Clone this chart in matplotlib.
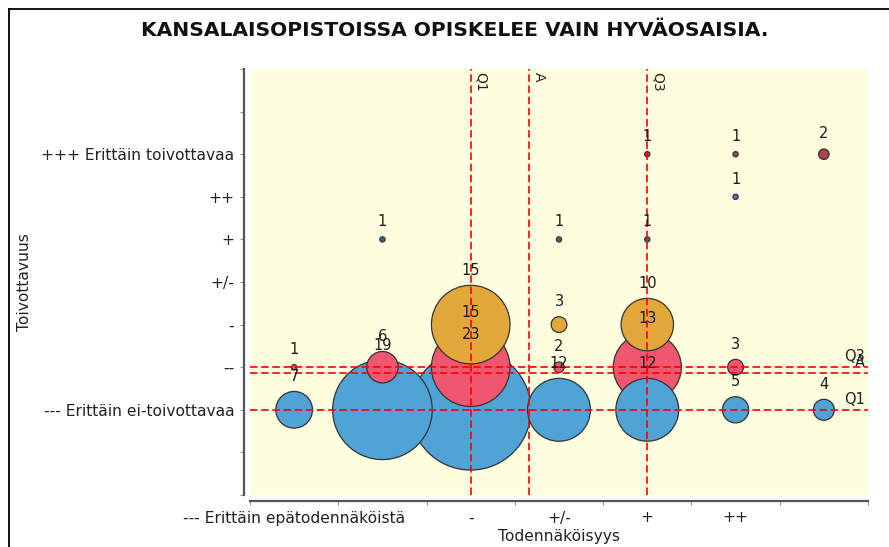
import numpy as np
import matplotlib
matplotlib.use("Agg")
import matplotlib.pyplot as plt
from matplotlib.lines import Line2D

# ---------------- data ----------------
title = "KANSALAISOPISTOISSA OPISKELEE VAIN HYVÄOSAISIA."
x_title = "Todennäköisyys"
y_title = "Toivottavuus"

x_categories = ["--- Erittäin epätodennäköistä", "--", "-", "+/-", "+", "++",
                "+++ Erittäin todennäköistä"]
x_shown = [True, False, True, True, True, True, False]
y_categories = ["--- Erittäin ei-toivottavaa", "--", "-", "+/-", "+", "++",
                "+++ Erittäin toivottavaa"]

# counts per desirability row (index = likelihood category 1..7)
row_very_undesirable = [7, 19, 23, 12, 12, 5, 4]     # ---
row_undesirable      = [1, 6, 15, 2, 13, 3, 0]       # --
row_slightly_undes   = [0, 0, 15, 3, 10, 0, 0]       # -
row_neutral          = [0, 0, 0, 0, 0, 0, 0]         # +/-
row_slightly_des     = [0, 1, 0, 1, 1, 0, 0]         # +
row_desirable        = [0, 0, 0, 0, 0, 1, 0]         # ++
row_very_desirable   = [0, 0, 0, 0, 1, 1, 2]         # +++

rows = [row_very_undesirable, row_undesirable, row_slightly_undes, row_neutral,
        row_slightly_des, row_desirable, row_very_desirable]
row_colors = ["#4FA3D5", "#F0566E", "#E3A83A", "#8BC34A",
              "#2C7182", "#6D6DC2", "#A8454F"]

# ---------------- figure ----------------
W, H, DPI = 889, 547, 100
FS = 11.2
fig = plt.figure(figsize=(W / DPI, H / DPI), dpi=DPI)
fig.patch.set_facecolor("white")

ax = fig.add_axes([250 / W, 52 / H, 618 / W, 426 / H])
ax.set_facecolor("#FFFFE0")
ax.set_xlim(0.5, 7.5)
ax.set_ylim(-1, 9)

for s in ["top", "right"]:
    ax.spines[s].set_visible(False)
for s in ["left", "bottom"]:
    ax.spines[s].set_position(("outward", 4.3))
    ax.spines[s].set_color("#555555")
    ax.spines[s].set_linewidth(1.6)

ax.set_yticks(np.arange(-1, 10))
ax.set_yticklabels(["", ""] + y_categories + ["", ""])
ax.set_xticks(np.arange(0.5, 7.6, 1.0))
ax.set_xticklabels([])
ax.tick_params(axis="both", direction="out", length=3, width=0.8,
               color="#999999", labelsize=FS, labelcolor="#222222")
ax.tick_params(axis="y", pad=4)

# x category labels
for i, (lab, show) in enumerate(zip(x_categories, x_shown)):
    if not show:
        continue
    ax.annotate(lab, xy=(i + 1, 0), xycoords=("data", "axes fraction"),
                xytext=(0, -23), textcoords="offset pixels",
                ha="center", va="center", fontsize=FS, color="#222222",
                annotation_clip=False)

# ---------------- bubbles ----------------
PX_PER_UNIT = 2.62
pts = []
for yi, (row, col) in enumerate(zip(rows, row_colors)):
    for xi, v in enumerate(row):
        if v > 0:
            pts.append((xi + 1, yi + 1, v, col))
pts.sort(key=lambda p: -p[2])

xs = [p[0] for p in pts]
ys = [p[1] for p in pts]
vals = [p[2] for p in pts]
cols = [p[3] for p in pts]
sizes = [(2 * v * PX_PER_UNIT * 72 / DPI) ** 2 for v in vals]
ax.scatter(xs, ys, s=sizes, c=cols, edgecolors="#333333", linewidths=0.9,
           zorder=3)

# ---------------- quartiles / mean lines ----------------
all_x = np.concatenate([np.repeat(np.arange(1, 8), r) for r in rows])
all_y = np.concatenate([np.repeat(np.full(7, yi + 1), r) for yi, r in enumerate(rows)])
qx1, qx3 = np.percentile(all_x, [25, 75])
qy1, qy3 = np.percentile(all_y, [25, 75])
mx, my = all_x.mean(), all_y.mean()

dash = (0, (4.5, 2.2))
for xv, lab in [(qx1, "Q1"), (mx, "A"), (qx3, "Q3")]:
    ax.axvline(xv, color="#FF0000", ls=dash, lw=1.2, zorder=4)
    ax.annotate(lab, xy=(xv, 1), xycoords=("data", "axes fraction"),
                xytext=(3, -3), textcoords="offset pixels", rotation=-90,
                ha="left", va="top", fontsize=10, color="#222222")
for yv, lab in [(qy1, "Q1"), (my, "A"), (qy3, "Q3")]:
    ax.axhline(yv, color="#FF0000", ls=dash, lw=1.2, zorder=4)
    ax.annotate(lab, xy=(1, yv), xycoords=("axes fraction", "data"),
                xytext=(-3, 3), textcoords="offset pixels",
                ha="right", va="bottom", fontsize=10.5, color="#222222")

# value labels
for x, y, v in zip(xs, ys, vals):
    ax.annotate(str(v), xy=(x, y), xytext=(0, v * PX_PER_UNIT + 15),
                textcoords="offset pixels", ha="center", va="center",
                fontsize=10.5, color="#1a1a1a", zorder=5)

# ---------------- titles ----------------
fig.text(455 / W, 1 - 30 / H, title, ha="center", va="center",
         fontsize=14.6, fontweight="bold", color="#111111")
fig.text(559 / W, 1 - 537 / H, x_title, ha="center", va="center",
         fontsize=FS, color="#222222")
fig.text(25 / W, 1 - 282 / H, y_title, ha="center", va="center",
         rotation=90, fontsize=FS, color="#222222")

# partial frame (left & top edges)
fig.add_artist(Line2D([9 / W, 1], [1 - 9 / H, 1 - 9 / H],
                      transform=fig.transFigure, color="black", lw=1.3))
fig.add_artist(Line2D([9 / W, 9 / W], [0, 1 - 9 / H],
                      transform=fig.transFigure, color="black", lw=1.3))

fig.savefig("out.png", dpi=DPI)
